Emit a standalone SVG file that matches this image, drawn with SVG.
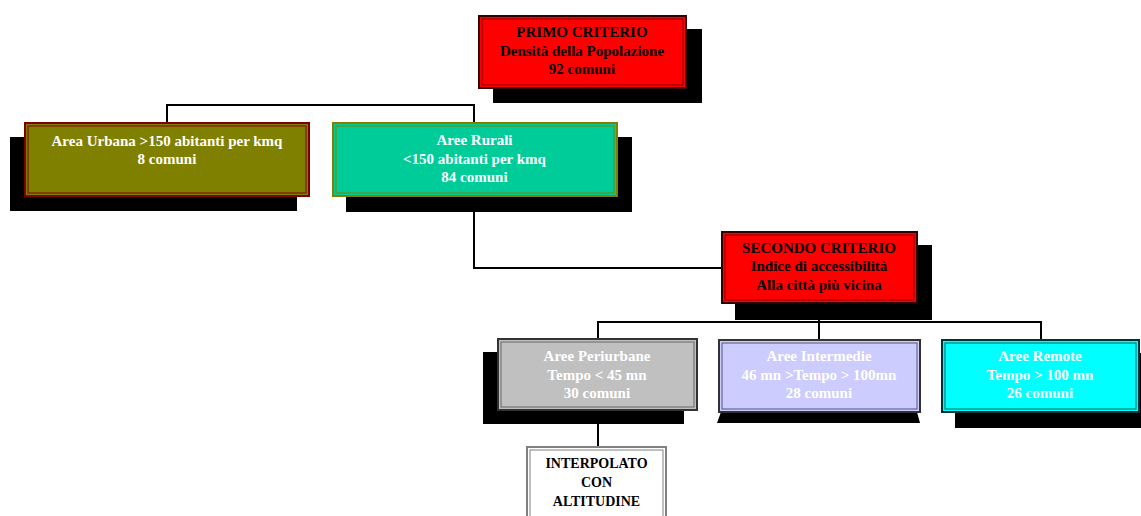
<svg xmlns="http://www.w3.org/2000/svg" width="1141" height="516" viewBox="0 0 1141 516">
<style>
.t{font-family:"Liberation Serif","Times New Roman",serif;font-weight:bold;font-size:15px;text-anchor:middle}
.w{fill:#ffffff}
.k{fill:#000000}
.sh{fill:#000000}
.c{fill:none;stroke:#000000;stroke-width:2}
.in{fill:none;stroke-width:1}
</style>
<rect width="1141" height="516" fill="#ffffff"/>
<g id="connectors">
<polyline class="c" points="167,122 167,105 474,105 474,122"/>
<polyline class="c" points="474,197 474,268 721,268"/>
<polyline class="c" points="598,338 598,322 1041,322 1041,339"/>
<line class="c" x1="819" y1="303" x2="819" y2="339"/>
<line class="c" x1="598" y1="410" x2="598" y2="446"/>
</g>
<g id="primo">
<rect class="sh" x="493" y="29" width="209" height="74"/>
<rect x="479" y="16" width="207" height="72" fill="#ff0000" stroke="#330000" stroke-width="2"/>
<rect class="in" x="482" y="19" width="201" height="66" stroke="#800000"/>
<text class="t k" x="582" y="37">PRIMO CRITERIO</text>
<text class="t k" x="582" y="55.5">Densità della Popolazione</text>
<text class="t k" x="582" y="74">92 comuni</text>
</g>
<g id="urbana">
<rect class="sh" x="10" y="137" width="287" height="74"/>
<rect x="25" y="123" width="284" height="73" fill="#808000" stroke="#800000" stroke-width="2"/>
<rect class="in" x="28" y="126" width="278" height="67" stroke="#800000"/>
<text class="t w" x="167" y="146">Area Urbana &gt;150 abitanti per kmq</text>
<text class="t w" x="167" y="163.5">8 comuni</text>
</g>
<g id="rurali">
<rect class="sh" x="346" y="137" width="286" height="75"/>
<rect x="333" y="123" width="284" height="73" fill="#00cc99" stroke="#808000" stroke-width="2"/>
<rect class="in" x="336" y="126" width="278" height="67" stroke="#808000"/>
<text class="t w" x="474.5" y="145">Aree Rurali</text>
<text class="t w" x="474.5" y="163.5">&lt;150 abitanti per kmq</text>
<text class="t w" x="474.5" y="182">84 comuni</text>
</g>
<g id="secondo">
<rect class="sh" x="735" y="245" width="197" height="75"/>
<rect x="722" y="232" width="195" height="71" fill="#ff0000" stroke="#330000" stroke-width="2"/>
<rect class="in" x="725" y="235" width="189" height="65" stroke="#800000"/>
<text class="t k" x="819" y="252.5">SECONDO CRITERIO</text>
<text class="t k" x="819" y="271">Indice di accessibilità</text>
<text class="t k" x="819" y="290">Alla città più vicina</text>
</g>
<g id="periurbane">
<rect class="sh" x="483" y="352" width="201" height="72"/>
<rect x="498" y="339" width="199" height="71" fill="#c0c0c0" stroke="#333333" stroke-width="2"/>
<rect class="in" x="501" y="342" width="193" height="65" stroke="#666666"/>
<text class="t w" x="597" y="361">Aree Periurbane</text>
<text class="t w" x="597" y="379.5">Tempo &lt; 45 mn</text>
<text class="t w" x="597" y="397.5">30 comuni</text>
</g>
<g id="intermedie">
<polygon class="sh" points="721,412 917,412 920,423 717,423"/>
<rect x="719" y="340" width="201" height="72" fill="#ccccff" stroke="#333333" stroke-width="2"/>
<rect class="in" x="722" y="343" width="195" height="66" stroke="#555577"/>
<text class="t w" x="819" y="361">Aree Intermedie</text>
<text class="t w" x="819" y="379.5">46 mn &gt;Tempo &gt; 100mn</text>
<text class="t w" x="819" y="397.5">28 comuni</text>
</g>
<g id="remote">
<rect class="sh" x="955" y="353" width="190" height="75"/>
<rect x="942" y="340" width="197" height="72" fill="#00ffff" stroke="#003333" stroke-width="2"/>
<rect class="in" x="945" y="343" width="191" height="66" stroke="#006666"/>
<text class="t w" x="1040" y="361">Aree Remote</text>
<text class="t w" x="1040" y="379.5">Tempo &gt; 100 mn</text>
<text class="t w" x="1040" y="397.5">26 comuni</text>
</g>
<g id="interpolato">
<rect x="527" y="447" width="139" height="80" fill="#ffffff" stroke="#808080" stroke-width="2"/>
<rect class="in" x="530" y="450" width="133" height="74" stroke="#808080"/>
<text class="t k" x="596.5" y="468" style="font-size:14px">INTERPOLATO</text>
<text class="t k" x="596.5" y="487" style="font-size:14px">CON</text>
<text class="t k" x="596.5" y="506" style="font-size:14px">ALTITUDINE</text>
</g>
</svg>
